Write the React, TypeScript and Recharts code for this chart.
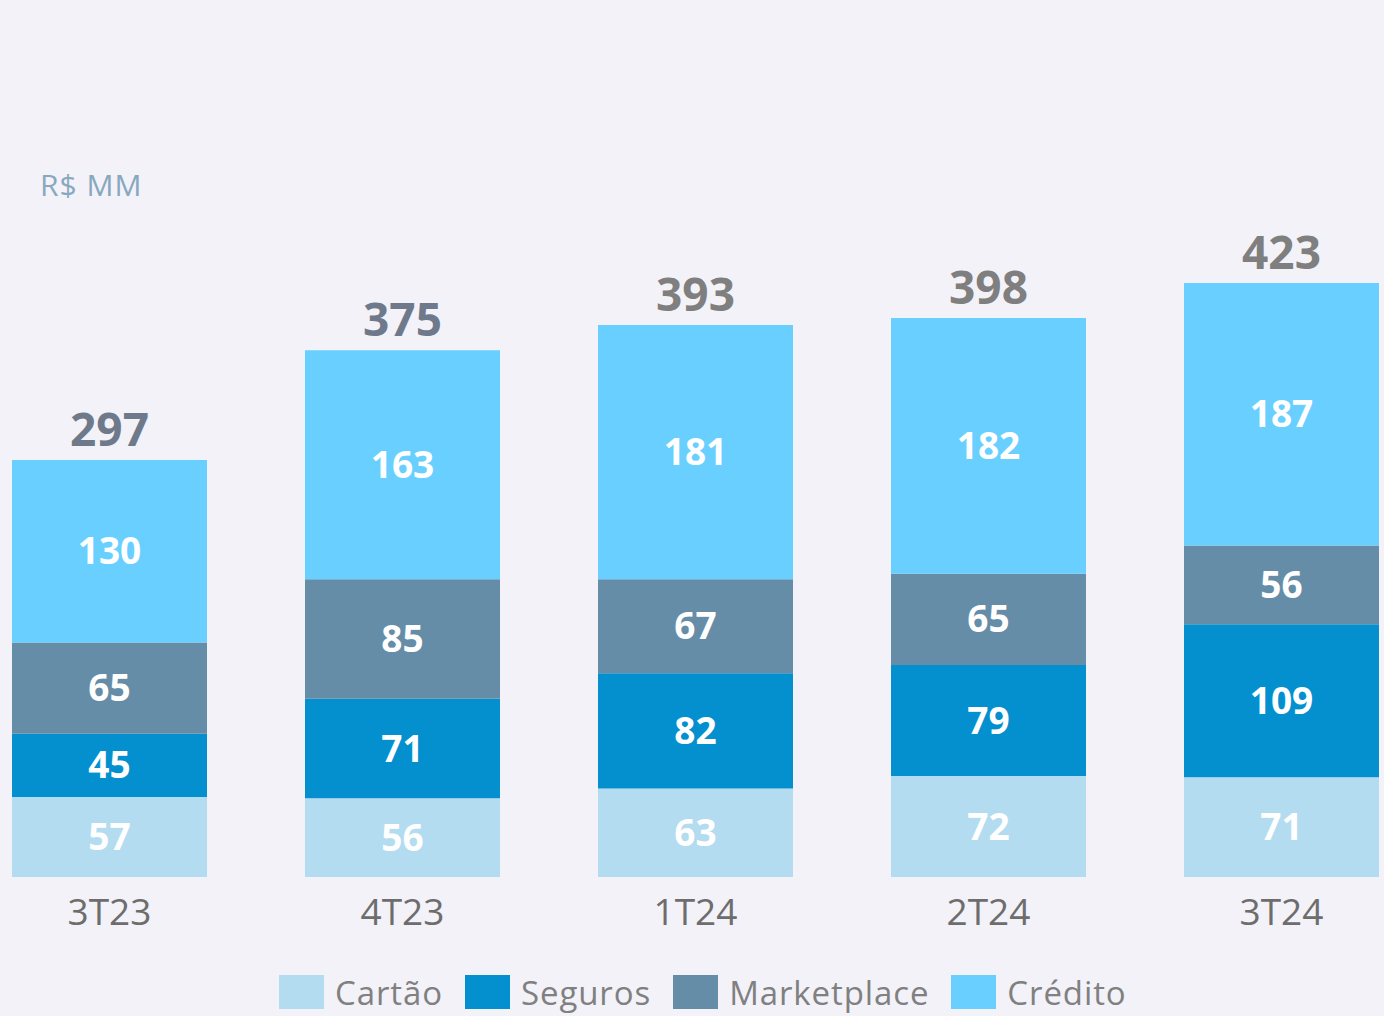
import { BarChart, Bar, XAxis, YAxis, LabelList } from 'recharts'

const periods = ['3T23', '4T23', '1T24', '2T24', '3T24']
const cartao = [57, 56, 63, 72, 71]
const seguros = [45, 71, 82, 79, 109]
const marketplace = [65, 85, 67, 65, 56]
const credito = [130, 163, 181, 182, 187]
const totals = [297, 375, 393, 398, 423]

const series = [
  { key: 'cartao', name: 'Cartão', color: '#b3dcf0' },
  { key: 'seguros', name: 'Seguros', color: '#0490cf' },
  { key: 'marketplace', name: 'Marketplace', color: '#668da8' },
  { key: 'credito', name: 'Crédito', color: '#69cfff' }
]

// first two totals are in a slate tone, the rest plain gray
const totalColors = ['#6e7a8b', '#6e7a8b', '#7f7f7f', '#7f7f7f', '#7f7f7f']

const FONT = '"Open Sans", sans-serif'
const BG = '#f3f2f8'

const chartData = periods.map((p, i) => ({
  period: p,
  cartao: cartao[i],
  seguros: seguros[i],
  marketplace: marketplace[i],
  credito: credito[i],
  total: totals[i]
}))

const PeriodTick = ({ x, y, payload }: any) => (
  <text x={x} y={y + 40} textAnchor='middle' fill='#6d6d6d' fontSize={37} fontFamily={FONT}>
    {payload.value}
  </text>
)

const TotalLabel = ({ x, y, width, value, index }: any) => (
  <text
    x={x + width / 2}
    y={y - 14}
    textAnchor='middle'
    fill={totalColors[index]}
    fontSize={46}
    fontWeight={700}
    fontFamily={FONT}
  >
    {value}
  </text>
)

export default function App() {
  return (
    <div
      style={{
        position: 'absolute',
        left: 0,
        top: 0,
        width: 1384,
        height: 1016,
        overflow: 'hidden',
        background: BG,
        fontFamily: FONT
      }}
    >
      <div
        style={{
          position: 'absolute',
          left: 40,
          top: 170,
          fontSize: 30,
          lineHeight: 1,
          letterSpacing: 1,
          color: '#88a8c0'
        }}
      >
        R$ MM
      </div>

      <div style={{ position: 'absolute', left: -37, top: 0 }}>
        <BarChart
          width={1465}
          height={1016}
          data={chartData}
          margin={{ top: 245, right: 0, bottom: 109, left: 0 }}
        >
          <XAxis dataKey='period' axisLine={false} tickLine={false} tick={<PeriodTick />} />
          <YAxis hide domain={[0, 450]} />
          {series.map((s, idx) => (
            <Bar
              key={s.key}
              dataKey={s.key}
              name={s.name}
              stackId='a'
              fill={s.color}
              barSize={195}
              isAnimationActive={false}
            >
              <LabelList
                dataKey={s.key}
                position='center'
                fill='#ffffff'
                fontSize={37}
                fontWeight={700}
                fontFamily={FONT}
              />
              {idx === series.length - 1 && <LabelList dataKey='total' content={<TotalLabel />} />}
            </Bar>
          ))}
        </BarChart>
      </div>

      {/* legend */}
      <div
        style={{
          position: 'absolute',
          left: 279,
          top: 975,
          display: 'flex',
          alignItems: 'center'
        }}
      >
        {series.map(s => (
          <div key={s.key} style={{ display: 'flex', alignItems: 'center', marginRight: 22 }}>
            <span style={{ width: 45, height: 34, background: s.color, display: 'inline-block' }} />
            <span
              style={{
                marginLeft: 11,
                fontSize: 33,
                lineHeight: 1,
                color: '#808080',
                letterSpacing: 0.9
              }}
            >
              {s.name}
            </span>
          </div>
        ))}
      </div>
    </div>
  )
}
